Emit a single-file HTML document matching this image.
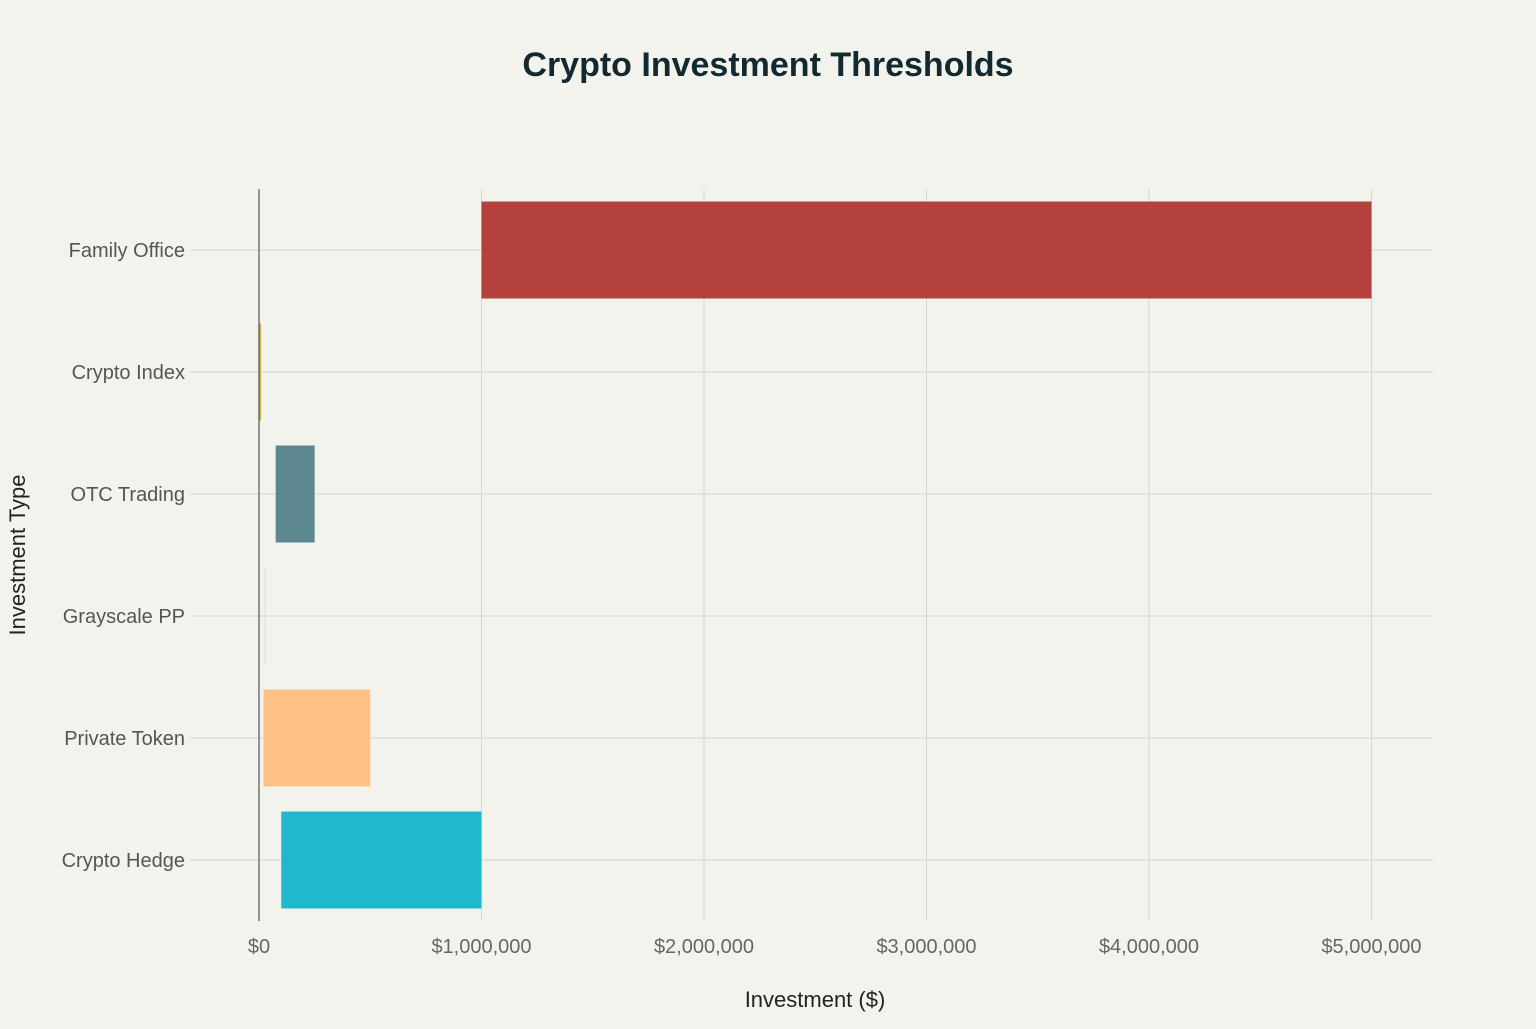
<!DOCTYPE html>
<html><head><meta charset="utf-8"><style>
body{margin:0;background:#f3f3ee;font-family:"Liberation Sans",sans-serif}
</style></head><body>
<svg id="c" width="1536" height="1024" xmlns="http://www.w3.org/2000/svg">
<rect width="1536" height="1024" fill="#f3f3ee"/>
<text x="768" y="76" text-anchor="middle" font-size="34" font-weight="bold" fill="#13292f">Crypto Investment Thresholds</text>
<text x="815" y="1007" text-anchor="middle" font-size="22" fill="#222">Investment ($)</text>
<text transform="translate(25,555) rotate(-90)" text-anchor="middle" font-size="22" fill="#222">Investment Type</text>
<g id="grid"></g><g id="bars"></g><g id="labels"></g>
</svg>
<script>
const categories=["Family Office","Crypto Index","OTC Trading","Grayscale PP","Private Token","Crypto Hedge"];
const minValues=[1000000,0,75000,25000,20000,100000];
const maxValues=[5000000,10000,250000,27000,500000,1000000];
const colors=["#b4413c","#d2ba4c","#5d878f","#dcdcd6","#ffc185","#1fb8cd"];
const xTicks=[0,1000000,2000000,3000000,4000000,5000000];
const xTickLabels=["$0","$1,000,000","$2,000,000","$3,000,000","$4,000,000","$5,000,000"];
const NS="http://www.w3.org/2000/svg";
const x0=259,pxPer=222.5/1000000,yTop=189,yBot=921,rowH=122,firstY=250;
const X=v=>x0+v*pxPer;
const Y=i=>firstY+i*rowH;
function mk(t,a,p){const e=document.createElementNS(NS,t);for(const k in a)e.setAttribute(k,a[k]);p.appendChild(e);return e;}
const g=document.getElementById('grid'),b=document.getElementById('bars'),l=document.getElementById('labels');
xTicks.forEach((v,i)=>{
 if(i>0){const ln=mk('line',{x1:X(v),x2:X(v),y1:yTop,y2:yBot,stroke:'#d6d6d0','stroke-width':1},g);
 }
 const t=mk('text',{x:X(v),y:953,'text-anchor':'middle','font-size':20,fill:'#666'},l);t.textContent=xTickLabels[i];
 
});
categories.forEach((c,i)=>{
 const ln=mk('line',{x1:190,x2:1433,y1:Y(i),y2:Y(i),stroke:'#d6d6d0','stroke-width':1},g);
 
 const t=mk('text',{x:185,y:Y(i)+7,'text-anchor':'end','font-size':20,fill:'#555'},l);t.textContent=c;
 
 const w=Math.max(1,X(maxValues[i])-X(minValues[i]));
 const r=mk('rect',{x:X(minValues[i]),y:Y(i)-48.5,width:w,height:97,fill:colors[i]},b);
 
});
const ax=mk('line',{x1:x0,x2:x0,y1:yTop,y2:yBot,stroke:'#333','stroke-width':1},g.parentNode);

</script>
</body></html>
